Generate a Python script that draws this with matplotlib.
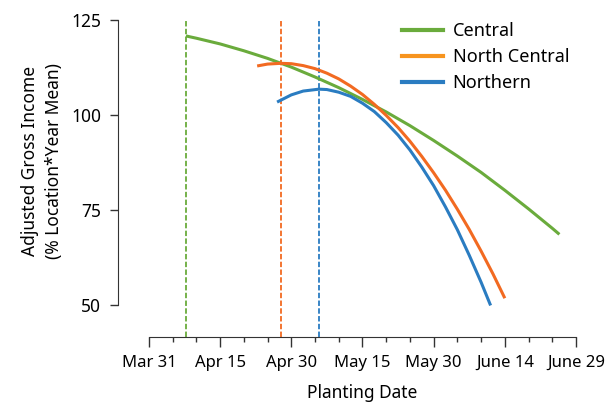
import matplotlib.pyplot as plt

plt.rcParams['font.family'] = ['Noto Sans', 'DejaVu Sans']

# days after Mar 31
central_day = [7.8, 10, 15, 20, 25, 30, 35, 40, 45, 50, 55, 60, 65, 70, 75, 80, 85, 86.5]
central_val = [120.8, 120.2, 118.7, 116.9, 114.9, 112.6, 110.0, 107.2, 104.1, 100.8,
               97.2, 93.3, 89.2, 84.9, 80.2, 75.3, 70.2, 68.6]

ncentral_day = [22.8, 25, 27.8, 30, 32.5, 35, 37.5, 40, 42.5, 45, 47.5, 50, 52.5, 55,
                57.5, 60, 62.5, 65, 67.5, 70, 72.5, 75]
ncentral_val = [112.9, 113.4, 113.6, 113.5, 113.0, 112.2, 111.0, 109.5, 107.6, 105.4,
                102.8, 99.9, 96.7, 93.1, 89.1, 84.8, 80.2, 75.2, 69.9, 64.2, 58.2, 51.8]

northern_day = [27, 30, 32.5, 35.8, 37.5, 40, 42.5, 45, 47.5, 50, 52.5, 55, 57.5, 60,
                62.5, 65, 67.5, 70, 72]
northern_val = [103.4, 105.3, 106.3, 106.8, 106.7, 106.0, 104.9, 103.1, 100.9, 98.0,
                94.7, 90.8, 86.3, 81.4, 75.8, 69.8, 63.1, 56.0, 49.9]

# optimum planting dates (dashed markers)
optimum_day = [7.8, 27.8, 35.8]

tick_days = [0, 15, 30, 45, 60, 75, 90]
tick_labels = ['Mar 31', 'Apr 15', 'Apr 30', 'May 15', 'May 30', 'June 14', 'June 29']

green = '#6AAB3C'
orange = '#F26A21'
blue = '#2A7CC1'
legend_orange = '#F7941E'

fig = plt.figure(figsize=(6.06, 4.07), dpi=100)
ax = fig.add_axes([0.1947, 0.172, 0.7558, 0.7789])
ax.set_xlim(-6.53, 90)
ax.set_ylim(41.6, 125)

for d, c in zip(optimum_day, [green, orange, blue]):
    ax.plot([d, d], [41.6, 125], color=c, lw=1.3, linestyle=(0, (3, 1.3)), zorder=1)

ax.plot(central_day, central_val, color=green, lw=2.2, solid_capstyle='butt', zorder=2)
ax.plot(ncentral_day, ncentral_val, color=orange, lw=2.2, solid_capstyle='butt', zorder=3)
ax.plot(northern_day, northern_val, color=blue, lw=2.2, solid_capstyle='butt', zorder=3)

# legend handles
h1, = ax.plot([], [], color=green, lw=3, label='Central')
h2, = ax.plot([], [], color=legend_orange, lw=3, label='North Central')
h3, = ax.plot([], [], color=blue, lw=3, label='Northern')
ax.legend(handles=[h1, h2, h3], loc='upper left', bbox_to_anchor=(0.584, 1.045),
          frameon=False, fontsize=13, handlelength=2.27, handletextpad=0.55,
          labelspacing=0.44)

for s in ['top', 'right']:
    ax.spines[s].set_visible(False)
ax.spines['left'].set_bounds(50, 125)
ax.spines['bottom'].set_bounds(0, 90)
ax.spines['left'].set_color('#333333')
ax.spines['bottom'].set_color('#333333')

ax.set_yticks([50, 75, 100, 125])
ax.set_xticks(tick_days)
ax.set_xticklabels(tick_labels)
ax.set_xticks(range(0, 91, 5), minor=True)
ax.tick_params(axis='both', which='major', labelsize=12, color='#333333', width=1)
ax.tick_params(axis='y', which='major', labelsize=12.5)
ax.tick_params(axis='x', which='major', length=7, pad=6)
ax.tick_params(axis='y', which='major', length=6, pad=6)
ax.tick_params(axis='x', which='minor', length=3.6, width=1, color='#333333')

ax.set_xlabel('Planting Date', fontsize=12.5, va='top')
ax.xaxis.set_label_coords(0.534, -0.147)
ax.set_ylabel('Adjusted Gross Income\n(% Location*Year Mean)', fontsize=12.5,
              linespacing=1.4)
ax.yaxis.set_label_coords(-0.120, 0.555)

fig.savefig('out.png', dpi=100)
